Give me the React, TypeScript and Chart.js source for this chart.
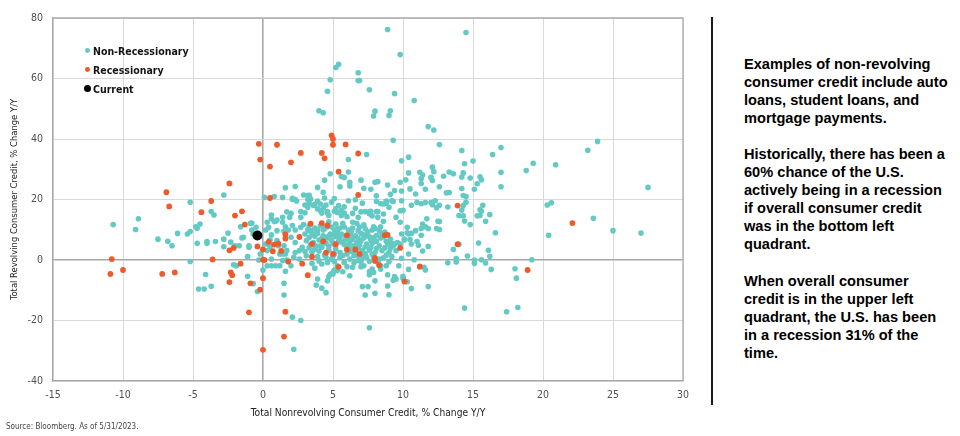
import React, { useEffect, useRef } from "react";
import { Chart, registerables } from "chart.js";

Chart.register(...registerables);

// ---------- data (x: nonrevolving % chg Y/Y, y: revolving % chg Y/Y) ----------
const xTicks = [-15, -10, -5, 0, 5, 10, 15, 20, 25, 30];
const yTicks = [-40, -20, 0, 20, 40, 60, 80];

const currentPoint: [number, number][] = [[-0.4, 8.1]];

const recessionary: [number, number][] = [
  [-0.3, 38.4], [-0.2, 33.2], [1.0, 38.1], [0.5, 30.9], [2.0, 32.3], [2.7, 35.4], [4.2, 35.4], [4.4, 33.6],
  [4.9, 41.2], [5.0, 40.0], [5.0, 38.1], [5.9, 38.2], [6.8, 35.2], [5.4, 29.2], [0.5, 20.5], [6.8, 21.5],
  [13.9, 18.0], [22.1, 12.2], [13.9, 5.2], [18.9, -3.3], [11.2, -2.2], [10.1, -7.1], [9.8, 4.0], [8.7, 8.2],
  [8.9, 8.3], [8.0, 0.7], [8.0, -0.3], [8.3, -1.7], [6.6, 3.5], [6.9, 2.0], [6.0, 3.4], [6.0, 8.2],
  [5.2, 5.2], [5.0, 2.0], [5.4, -2.3], [4.5, 2.4], [4.3, 6.2], [3.5, 5.3], [3.5, 1.1], [3.4, 12.0],
  [4.2, 12.2], [4.6, 11.4], [2.8, -1.2], [3.2, -5.0], [2.6, 7.6], [1.8, -0.5], [1.6, 8.5], [1.6, 7.1],
  [0.4, 6.0], [0.8, 5.1], [1.1, 5.4], [1.3, 3.0], [0.7, 2.9], [-0.4, 4.5], [0.0, 3.5], [0.0, 0.1],
  [0.1, 0.0], [-1.3, 11.7], [-1.5, 16.1], [-2.0, 14.7], [-2.4, 25.3], [-6.9, 22.4], [-6.7, 17.7], [-3.7, 19.5],
  [-4.4, 15.8], [-2.4, 3.2], [-2.1, 4.0], [-3.6, 0.2], [-10.8, 0.3], [-10.9, -4.6], [-10.0, -3.3], [-7.2, -4.6],
  [-6.3, -4.1], [-1.6, -1.2], [-2.3, -4.1], [-2.2, -5.0], [-2.4, -7.3], [-0.9, -7.7], [-0.2, -9.8], [0.0, -6.0],
  [-1.0, -17.3], [0.0, -29.7], [1.5, -25.3], [1.6, -17.1],
];

const nonRecessionaryUpper: [number, number][] = [
  [8.9, 76.2], [14.5, 75.2], [9.8, 67.9], [5.4, 64.7], [5.2, 63.6], [6.8, 61.9], [4.8, 59.6], [6.8, 59.3],
  [6.9, 59.3], [4.6, 55.8], [7.6, 56.3], [9.4, 55.0], [10.8, 52.7], [4.0, 49.3], [4.3, 48.7], [8.0, 49.2],
  [7.9, 47.6], [9.1, 49.3], [9.0, 47.8], [11.8, 44.1], [12.2, 43.0], [9.3, 39.6], [12.6, 38.2], [14.2, 36.2],
  [6.1, 33.2], [7.4, 34.9], [9.9, 32.8], [10.4, 34.0], [14.4, 31.8], [15.0, 32.7], [16.4, 34.9], [17.0, 37.2],
  [23.2, 36.3], [23.9, 39.2], [18.8, 29.6], [19.3, 32.0], [20.9, 31.5], [27.5, 24.0], [20.3, 18.2], [20.6, 18.9],
  [23.6, 13.8], [17.0, 29.0], [17.0, 24.2], [6.1, 29.1], [4.8, 28.5], [4.4, 26.4],
  [-2.8, 21.5], [-5.2, 19.1], [-3.7, 16.0], [-3.5, 14.9], [-8.9, 13.6], [0.1, 20.7], [0.8, 21.0], [1.4, 20.7],
  [1.6, 23.9], [2.3, 24.3], [2.1, 20.0], [2.4, 19.5], [3.3, 21.4], [3.2, 17.4], [3.9, 19.5], [3.7, 18.4],
  [0.6, 14.9], [1.7, 15.9], [2.0, 15.4], [2.7, 14.1], [3.0, 15.6],
];

const nonRecessionaryMid: [number, number][] = [
  [7.0, 26.4], [8.0, 25.7], [8.2, 25.9], [8.9, 24.8], [9.8, 25.7], [10.2, 26.5], [10.4, 28.8], [11.2, 29.0],
  [11.4, 28.1], [12.1, 30.7], [12.2, 29.2], [12.9, 27.7], [13.3, 29.1], [13.6, 28.5], [14.2, 27.4], [14.3, 28.8],
  [14.8, 27.1], [15.5, 27.5], [15.6, 26.5], [15.3, 25.2], [15.1, 23.4], [14.2, 23.6], [14.3, 21.3], [14.5, 21.0],
  [14.5, 19.1], [13.3, 22.3], [13.1, 22.2], [12.6, 24.2], [12.0, 27.3], [12.1, 26.3], [11.3, 26.9], [11.3, 25.3],
  [11.6, 23.4], [10.9, 21.8], [10.5, 23.5], [9.9, 22.8], [9.4, 23.0], [9.1, 21.7], [9.2, 19.6], [8.8, 19.5],
  [8.4, 18.6], [8.1, 21.2], [7.7, 23.4], [7.2, 23.7], [6.6, 19.9], [6.2, 25.7], [6.2, 24.5], [5.5, 24.2],
  [5.8, 27.3], [5.1, 20.3], [4.4, 20.5], [3.2, 20.0], [5.2, 16.9], [5.6, 16.4], [5.8, 15.5], [6.6, 17.1],
  [7.0, 15.9], [7.7, 16.1], [8.2, 16.0], [8.6, 15.2], [9.9, 19.6], [10.0, 16.4], [11.0, 19.1], [11.3, 18.6],
  [11.6, 19.0], [12.0, 19.0], [12.4, 17.3], [12.6, 18.1], [13.2, 17.5], [14.2, 16.5], [15.5, 16.6], [15.6, 16.1],
  [16.2, 15.0], [4.2, 15.5], [4.6, 15.5],
  [8.1, 19.3], [8.8, 18.8], [9.3, 19.4], [12.3, 19.6], [10.6, 18.1], [9.8, 16.3], [9.0, 17.4], [8.6, 18.5],
  [8.1, 16.0], [7.6, 16.0], [7.3, 16.0], [7.1, 18.8], [6.1, 19.6], [5.8, 17.6], [5.4, 18.0], [4.9, 19.1],
  [4.5, 18.2], [4.1, 18.5], [4.1, 16.3], [3.9, 16.9], [3.3, 18.8], [3.0, 18.2], [2.7, 16.0], [1.9, 14.1],
  [1.4, 14.1], [0.8, 12.7], [1.0, 13.2], [2.3, 20.0], [2.1, 20.4], [3.2, 21.3], [3.4, 20.2], [3.6, 18.0],
  [4.3, 17.1], [4.6, 16.0], [5.1, 16.1], [5.3, 15.7], [4.7, 14.7], [5.6, 14.7], [6.0, 14.3], [6.4, 15.4],
  [6.8, 14.1], [7.6, 15.2], [7.8, 14.6], [8.2, 14.1], [8.6, 12.8], [8.4, 11.0], [7.9, 11.0], [7.2, 11.6],
  [6.7, 12.1], [6.4, 12.5], [5.7, 12.1], [5.2, 11.9], [4.7, 12.6], [4.3, 11.0], [3.9, 9.9], [3.3, 9.7],
  [2.7, 10.8], [2.1, 11.4], [2.3, 9.9], [1.8, 9.9], [1.6, 11.0], [1.5, 9.5], [0.2, 9.9], [0.6, 8.3],
  [0.5, 5.0], [0.2, 5.3], [-0.2, 2.0], [-0.3, 0.0], [-1.0, 4.2], [-1.4, 7.5], [-0.8, 12.2], [-1.6, 11.0],
  [-0.7, 8.6], [9.5, 14.1], [9.8, 12.5], [10.3, 10.8], [10.4, 8.6], [10.9, 9.7], [11.4, 11.9], [11.7, 13.6],
  [2.9, 21.5], [4.3, 22.4], [3.9, 24.0], [5.6, 27.6], [0.3, 12.5], [1.4, 12.5],
];

const nonRecessionaryCore: [number, number][] = [
  [2.9, 11.7], [3.3, 11.4], [3.7, 10.6], [4.1, 11.3], [4.6, 11.0], [5.1, 9.9], [5.5, 10.6], [6.1, 9.9],
  [6.4, 10.6], [6.8, 9.7], [7.3, 10.3], [7.8, 9.9], [8.3, 9.7], [8.7, 9.2], [3.0, 8.6], [3.5, 8.6],
  [3.9, 8.8], [4.3, 8.0], [4.8, 8.6], [5.2, 7.7], [5.6, 8.6], [6.1, 7.3], [6.6, 8.0], [7.0, 8.8],
  [7.4, 8.0], [7.9, 7.3], [8.4, 7.3], [9.1, 6.9], [9.6, 5.8], [3.1, 6.4], [3.6, 5.8], [4.0, 6.6],
  [4.5, 5.5], [4.9, 6.4], [5.4, 6.2], [5.8, 5.1], [6.2, 5.8], [6.5, 4.7], [7.0, 6.4], [7.4, 5.3],
  [7.8, 5.5], [8.3, 4.7], [8.9, 5.3], [9.3, 4.7], [10.1, 6.6], [2.8, 4.2], [3.3, 4.0], [3.7, 3.6],
  [4.2, 4.2], [4.7, 3.3], [5.2, 3.6], [5.5, 2.5], [6.0, 2.0], [6.6, 2.5], [7.1, 3.1], [7.6, 3.3],
  [8.0, 2.5], [8.5, 3.1], [9.0, 2.5], [9.5, 3.1], [3.1, 1.4], [3.9, 1.1], [4.5, 0.9], [4.9, 0.3],
  [5.5, 0.9], [6.2, 0.3], [6.8, -0.2], [7.4, 0.9], [7.9, 1.1], [8.6, 0.7], [9.2, 1.1], [3.5, -1.1],
  [4.2, -1.3], [5.3, -1.9], [6.0, -2.2], [7.2, -1.9], [7.8, -3.0], [8.4, -1.9], [9.7, -1.9], [4.8, -4.7],
  [6.2, -5.2], [7.6, -4.9], [8.9, -4.9], [2.0, 7.5], [2.3, 5.8], [1.5, 4.7], [1.2, 2.0], [1.7, 3.1],
  [2.2, 0.9], [2.0, -1.9], [0.9, -1.9], [0.6, 0.3], [0.3, 3.1], [1.0, 6.4], [2.6, 3.1], [3.4, 9.7],
  [4.3, 9.9], [5.3, 9.2], [5.9, 8.0], [6.4, 6.9], [6.7, 5.8], [7.2, 7.3], [7.7, 6.6], [8.1, 6.2],
  [8.6, 7.7], [4.1, 4.7], [4.6, 7.3], [5.1, 5.1], [5.5, 7.3], [6.0, 4.2], [6.8, 4.0], [5.1, 2.0],
  [6.5, 1.4], [7.1, 1.1], [5.8, -0.8],
  [3.2, 10.1], [3.8, 9.4], [4.4, 10.4], [4.9, 10.9], [5.3, 10.2], [5.8, 10.9], [6.3, 9.4], [6.9, 10.9],
  [7.5, 9.3], [8.0, 10.5], [8.5, 8.6], [3.3, 7.4], [3.7, 7.9], [4.2, 7.1], [4.7, 7.9], [5.0, 8.3],
  [5.4, 8.0], [5.9, 6.7], [6.3, 7.9], [6.8, 7.1], [7.2, 8.3], [7.6, 7.7], [8.1, 8.1], [8.8, 6.2],
  [3.4, 5.0], [3.8, 4.6], [4.3, 5.9], [4.7, 4.5], [5.0, 5.6], [5.6, 5.9], [6.1, 4.9], [6.4, 3.6],
  [6.9, 5.0], [7.3, 4.3], [7.7, 4.1], [8.1, 3.8], [8.7, 4.0], [9.1, 3.8], [3.0, 2.8], [3.5, 2.6],
  [4.0, 3.0], [4.4, 1.6], [5.0, 1.2], [5.7, 1.5], [6.3, 2.9], [6.8, 1.6], [7.3, 2.1], [7.8, 1.9],
  [8.3, 0.3], [8.8, 1.6], [4.0, -0.3], [4.6, -0.8], [5.1, -0.5], [6.5, -0.9], [7.0, -0.5], [7.6, -0.4],
  [8.2, -0.8], [9.0, -0.6], [9.9, 0.6], [10.4, 2.0],
];

const nonRecessionaryLower: [number, number][] = [
  [25.0, 9.7], [27.0, 8.9], [20.4, 8.2], [16.6, 9.0], [15.4, 5.6], [16.1, 3.2], [16.2, 1.2], [15.9, -1.0],
  [15.6, 0.1], [15.1, 0.0], [15.1, -1.1], [16.3, -3.1], [13.2, -0.9], [13.8, -0.7], [13.8, 0.5], [14.6, 1.3],
  [13.6, 3.5], [14.0, 5.2], [18.0, -2.9], [18.1, -6.0], [19.2, 0.1], [14.4, -15.9], [17.4, -17.1], [18.2, -15.7],
  [7.6, -22.4], [15.7, 18.1], [15.9, 12.8], [15.5, 14.7], [15.3, 14.6], [14.8, 11.7], [14.3, 18.0], [14.3, 14.6],
  [14.4, 12.9], [14.0, 14.7], [12.6, 12.7], [12.6, 10.1], [12.4, 10.4], [12.5, 12.8], [12.1, 18.3], [11.8, 10.4],
  [11.6, 11.0], [11.3, 10.4], [11.3, 8.2], [11.0, 6.1], [11.1, 4.9], [11.4, 3.0], [11.8, 4.5], [10.8, 0.1],
  [11.5, -2.4], [11.6, -3.3], [11.8, -8.8], [11.2, -2.1], [10.6, -9.4], [10.4, -3.1], [10.0, -6.0], [9.4, -5.5],
  [9.3, -6.7], [8.9, -8.6], [9.0, -11.5], [8.0, -11.0], [8.0, -6.9], [7.6, -3.8], [7.5, -8.8], [7.3, -11.6],
  [7.1, -8.8], [8.8, -1.9], [8.4, -3.0], [7.9, -4.1], [7.0, -2.2], [10.3, 9.0], [10.6, 8.8], [10.1, 6.9],
  [9.9, 8.6], [9.2, 5.5], [9.4, 5.3], [10.5, 6.8], [10.6, 5.3], [9.8, 5.3], [4.5, -10.8], [4.2, -9.3],
  [3.8, -8.3], [3.9, -6.3], [4.7, -5.5], [5.0, -4.1], [5.1, -3.3], [2.7, -20.0], [2.1, -18.9],
  [1.2, -1.9], [1.4, -0.2], [2.3, 2.5], [2.6, 0.3], [3.7, -2.7], [4.6, -6.9], [5.0, -4.6], [5.3, -3.5],
  [5.7, -3.9], [6.4, -2.4], [9.5, -6.3], [10.0, -5.4], [10.3, -7.2],
  [0.4, 10.8], [0.6, 13.6], [0.9, 12.8], [1.0, 9.7], [0.0, -3.3], [0.3, -1.9], [0.5, 4.4], [1.5, -11.6],
  [1.5, -7.7], [1.6, -3.7], [1.7, 0.0], [1.6, 2.0], [2.2, -29.5], [0.5, 6.6], [1.1, 4.7], [1.4, 2.0],
  [0.6, -1.9], [-0.7, -7.8], [-2.1, -1.6],
];

const nonRecessionaryLeft: [number, number][] = [
  [-10.7, 11.7], [-9.1, 10.1], [-7.5, 6.9], [-6.8, 6.2], [-6.5, 4.7], [-6.1, 8.8], [-5.4, 8.6], [-5.2, 9.4],
  [-4.7, 5.5], [-4.8, 11.0], [-4.7, 10.5], [-4.5, 11.9], [-4.0, 6.1], [-4.0, 5.5], [-3.4, 6.1], [-2.8, 6.9],
  [-2.8, 4.4], [-2.5, 8.9], [-2.3, 5.9], [-2.0, 4.7], [-1.7, 4.7], [-1.5, 7.3], [-1.0, 4.7], [-0.9, 12.1],
  [-0.8, 9.9], [-0.5, 10.8], [-1.1, 1.1], [-1.9, -1.9], [-5.2, -0.5], [-4.1, -4.8], [-4.6, -9.6], [-4.2, -9.6],
  [-3.7, -8.7], [-1.1, -5.4], [-0.4, -10.4],
];

const nonRecessionary: [number, number][] = [
  ...nonRecessionaryUpper,
  ...nonRecessionaryMid,
  ...nonRecessionaryCore,
  ...nonRecessionaryLower,
  ...nonRecessionaryLeft,
];

const legendItems = ["Non-Recessionary", "Recessionary", "Current"];
const noteParagraphs = [
  ["Examples of non-revolving", "consumer credit include auto", "loans, student loans, and", "mortgage payments."],
  [
    "Historically, there has been a",
    "60% chance of the U.S.",
    "actively being in a recession",
    "if overall consumer credit",
    "was in the bottom left",
    "quadrant.",
  ],
  [
    "When overall consumer",
    "credit is in the upper left",
    "quadrant, the U.S. has been",
    "in a recession 31% of the",
    "time.",
  ],
];

const TEAL = "#63C9C4";
const RED = "#EE5A2B";
const BLACK = "#000000";
const NARROW = "'Liberation Sans Narrow', 'Arial Narrow', 'DejaVu Sans Condensed', sans-serif";
const SANS = "'Liberation Sans', Arial, sans-serif";

const toXY = (arr: [number, number][]) => arr.map(([x, y]) => ({ x, y }));

export default function App() {
  const ref = useRef<HTMLCanvasElement>(null);

  useEffect(() => {
    if (!ref.current) return;
    const gridColor = (ctx: any) => (ctx.tick?.value === 0 ? "#A8A8A8" : "#D9D9D9");
    const gridWidth = (ctx: any) => (ctx.tick?.value === 0 ? 1.6 : 1);

    const edgePlugin = {
      id: "edges",
      afterDraw(chart: any) {
        const { ctx, chartArea } = chart;
        ctx.save();
        ctx.strokeStyle = "#ABABAB";
        ctx.lineWidth = 1.3;
        ctx.beginPath();
        ctx.moveTo(chartArea.left, chartArea.top);
        ctx.lineTo(chartArea.right, chartArea.top);
        ctx.lineTo(chartArea.right, chartArea.bottom);
        ctx.stroke();
        ctx.restore();
      },
    };

    const chart = new Chart(ref.current, {
      type: "scatter",
      data: {
        datasets: [
          {
            label: legendItems[2],
            data: toXY(currentPoint),
            backgroundColor: BLACK,
            borderColor: BLACK,
            borderWidth: 0,
            pointRadius: 5,
            order: 0,
          },
          {
            label: legendItems[1],
            data: toXY(recessionary),
            backgroundColor: RED,
            borderColor: RED,
            borderWidth: 0,
            pointRadius: 2.9,
            order: 1,
          },
          {
            label: legendItems[0],
            data: toXY(nonRecessionary),
            backgroundColor: TEAL,
            borderColor: TEAL,
            borderWidth: 0,
            pointRadius: 2.8,
            order: 2,
          },
        ],
      },
      options: {
        animation: false,
        responsive: false,
        maintainAspectRatio: false,
        layout: { padding: { top: 18, right: 17, left: 0, bottom: 0 } },
        plugins: { legend: { display: false }, tooltip: { enabled: false } },
        scales: {
          x: {
            type: "linear",
            min: xTicks[0],
            max: xTicks[xTicks.length - 1],
            afterBuildTicks: (s: any) => {
              s.ticks = xTicks.map((v) => ({ value: v }));
            },
            ticks: {
              color: "#505050",
              font: { family: NARROW, size: 10.5 },
              padding: 8,
            },
            grid: { color: gridColor, lineWidth: gridWidth, drawTicks: false },
            border: { display: true, color: "#A8A8A8", width: 1.3 },
            title: {
              display: true,
              text: "Total Nonrevolving Consumer Credit, % Change Y/Y",
              color: "#222",
              font: { family: NARROW, size: 10.2 },
              padding: { top: 4, bottom: 16.5 },
            },
            afterFit: (s: any) => {
              s.height = 55;
            },
          },
          y: {
            type: "linear",
            min: yTicks[0],
            max: yTicks[yTicks.length - 1],
            afterBuildTicks: (s: any) => {
              s.ticks = yTicks.map((v) => ({ value: v }));
            },
            ticks: {
              color: "#505050",
              font: { family: NARROW, size: 10.5 },
              padding: 10,
            },
            grid: { color: gridColor, lineWidth: gridWidth, drawTicks: false },
            border: { display: true, color: "#A8A8A8", width: 1.3 },
            title: {
              display: true,
              text: "Total Revolving Consumer Credit, % Change Y/Y",
              color: "#222",
              font: { family: NARROW, size: 9.4 },
              padding: { top: 9, bottom: 0 },
            },
            afterFit: (s: any) => {
              s.width = 53;
            },
          },
        },
      },
      plugins: [edgePlugin],
    });
    return () => chart.destroy();
  }, []);

  const legendColors = [TEAL, RED, BLACK];
  const legendY = [50.7, 69.5, 88.7];
  const legendR = [2.4, 2.4, 3.5];

  return (
    <div
      style={{
        position: "fixed",
        left: 0,
        top: 0,
        width: 960,
        height: 436,
        background: "#fff",
        overflow: "hidden",
      }}
    >
      <canvas
        ref={ref}
        width={700}
        height={436}
        style={{ position: "absolute", left: 0, top: 0, width: 700, height: 436 }}
      />
      {legendItems.map((label, i) => (
        <div key={label}>
          <div
            style={{
              position: "absolute",
              left: 87.3 - legendR[i],
              top: legendY[i] - legendR[i],
              width: legendR[i] * 2,
              height: legendR[i] * 2,
              borderRadius: "50%",
              background: legendColors[i],
            }}
          />
          <div
            style={{
              position: "absolute",
              left: 93,
              top: legendY[i] - 8,
              height: 16,
              lineHeight: "16px",
              fontFamily: NARROW,
              fontWeight: 700,
              fontSize: 10.5,
              color: "#141414",
              whiteSpace: "nowrap",
            }}
          >
            {label}
          </div>
        </div>
      ))}
      <div
        style={{
          position: "absolute",
          left: 6,
          top: 421,
          fontFamily: NARROW,
          fontSize: 8,
          lineHeight: "12px",
          color: "#444",
          whiteSpace: "nowrap",
        }}
      >
        Source: Bloomberg. As of 5/31/2023.
      </div>
      <div
        style={{
          position: "absolute",
          left: 711,
          top: 17,
          width: 2,
          height: 388,
          background: "#1a1a1a",
        }}
      />
      <div
        style={{
          position: "absolute",
          left: 744,
          top: 54.5,
          fontFamily: SANS,
          fontWeight: 700,
          fontSize: 14.6,
          lineHeight: "18.1px",
          color: "#000",
          whiteSpace: "nowrap",
        }}
      >
        {noteParagraphs.map((lines, pi) => (
          <div key={pi} style={{ marginBottom: pi < noteParagraphs.length - 1 ? 18.1 : 0 }}>
            {lines.map((l, li) => (
              <div key={li}>{l}</div>
            ))}
          </div>
        ))}
      </div>
    </div>
  );
}
